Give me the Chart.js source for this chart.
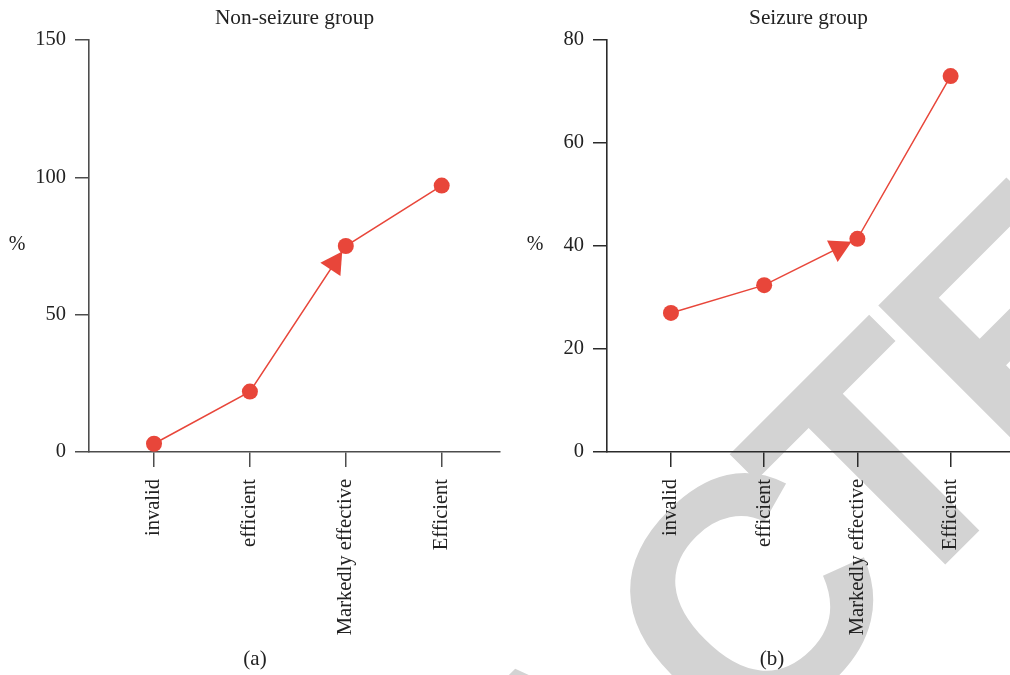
<!DOCTYPE html>
<html>
<head>
<meta charset="utf-8">
<script src="https://cdn.jsdelivr.net/npm/chart.js@4.4.1/dist/chart.umd.min.js"></script>
<style>
  html, body { margin: 0; padding: 0; background: #fff; overflow: hidden; width: 1010px; height: 675px; }
  .panel { position: absolute; top: 0; width: 505px; height: 675px; }
  #panelA { left: 0; }
  #panelB { left: 505px; }
</style>
</head>
<body>
<div class="panel" id="panelA"><canvas id="chartA" width="505" height="675"></canvas></div>
<div class="panel" id="panelB"><canvas id="chartB" width="505" height="675"></canvas></div>
<script>
// Outcome categories shared by both panels
const categories = ['invalid', 'efficient', 'Markedly effective', 'Efficient'];

// Percentages per outcome
const nonSeizureValues = [3, 22, 75, 97];
const seizureValues = [27, 32.4, 41.4, 73];

// Y-axis tick values
const nonSeizureTicks = [0, 50, 100, 150];
const seizureTicks = [0, 20, 40, 60, 80];

const RED = '#e8463a';
const SERIF = '"Liberation Serif", "DejaVu Serif", serif';

// Stamp text drawn behind both panels, positioned in page coordinates
// (rotated frame: u runs along the baseline, the baseline sits at v = 1067.6)
const stampPlugin = {
  id: 'stamp',
  beforeDraw(chart, args, opts) {
    const ctx = chart.ctx;
    ctx.save();
    ctx.translate(-opts.pageX, 0);
    ctx.rotate(-Math.PI / 4);
    ctx.font = 'bold 335px "Liberation Sans", Arial, sans-serif';
    ctx.fillStyle = '#d3d3d3';
    ctx.textBaseline = 'alphabetic';
    ctx.textAlign = 'left';
    const base = 1067.6;
    const head = 'RETRAC';
    ctx.fillText(head, 226 - ctx.measureText(head).width, base);
    ctx.fillText('T', 191, base);
    ctx.fillText('ED', 382.5, base);
    ctx.restore();
  }
};

// Direction arrow drawn on one segment of the line, pointing to its end point
const arrowPlugin = {
  id: 'segmentArrow',
  afterDatasetsDraw(chart, args, opts) {
    const pts = chart.getDatasetMeta(0).data;
    const a = pts[opts.segment], b = pts[opts.segment + 1];
    if (!a || !b) return;
    const dx = b.x - a.x, dy = b.y - a.y;
    const len = Math.hypot(dx, dy);
    const ux = dx / len, uy = dy / len;
    const tipX = b.x - ux * opts.gap, tipY = b.y - uy * opts.gap;
    const baseX = tipX - ux * opts.length, baseY = tipY - uy * opts.length;
    const px = -uy * opts.width / 2, py = ux * opts.width / 2;
    const ctx = chart.ctx;
    ctx.save();
    ctx.fillStyle = RED;
    ctx.beginPath();
    ctx.moveTo(tipX, tipY);
    ctx.lineTo(baseX + px, baseY + py);
    ctx.lineTo(baseX - px, baseY - py);
    ctx.closePath();
    ctx.fill();
    ctx.restore();
  }
};

// Panel title, unrotated axis unit and caption letter
const labelsPlugin = {
  id: 'panelLabels',
  afterDraw(chart, args, opts) {
    const ctx = chart.ctx;
    const area = chart.chartArea;
    const y = chart.scales.y;
    ctx.save();
    ctx.fillStyle = '#222';
    ctx.textBaseline = 'alphabetic';
    ctx.textAlign = 'center';
    ctx.font = '21.3px ' + SERIF;
    ctx.fillText(opts.title, (area.left + area.right) / 2, 23.5);
    ctx.font = '20px ' + SERIF;
    ctx.fillText('%', y.right - 72, (area.top + area.bottom) / 2 + 4);
    ctx.font = '21px ' + SERIF;
    ctx.fillText(opts.caption, opts.captionX, 665);
    ctx.restore();
  }
};

function makeChart(canvasId, values, yTicks, cfg) {
  const axisStyle = {
    grid: { display: true, drawOnChartArea: false, drawTicks: true, color: cfg.axisColor, lineWidth: 1.5 },
    border: { display: true, color: cfg.axisColor, width: 1.6 }
  };
  return new Chart(document.getElementById(canvasId), {
    type: 'line',
    data: {
      datasets: [{
        data: values.map((v, i) => ({ x: i, y: v })),
        borderColor: RED,
        borderWidth: 1.5,
        backgroundColor: RED,
        pointBackgroundColor: RED,
        pointBorderWidth: 0,
        pointRadius: 8,
        pointHoverRadius: 8,
        tension: 0,
        fill: false
      }]
    },
    options: {
      responsive: false,
      animation: false,
      events: [],
      layout: { autoPadding: false, padding: { top: 40, right: cfg.padRight, left: 0, bottom: 0 } },
      plugins: {
        legend: { display: false },
        tooltip: { enabled: false },
        stamp: { pageX: cfg.pageX },
        segmentArrow: { segment: 1, gap: 6.5, length: 21.5, width: 24 },
        panelLabels: { title: cfg.title, caption: cfg.caption, captionX: cfg.captionX }
      },
      scales: {
        x: {
          type: 'linear',
          min: cfg.xMin,
          max: cfg.xMax,
          grid: { ...axisStyle.grid, tickLength: 15 },
          border: axisStyle.border,
          afterBuildTicks: (scale) => { scale.ticks = categories.map((_, i) => ({ value: i })); },
          afterFit: (scale) => {
            scale.height = 223;
            scale.paddingLeft = 0;
            scale.paddingRight = 0;
          },
          ticks: {
            autoSkip: false,
            minRotation: 90,
            maxRotation: 90,
            padding: 12,
            color: '#222',
            font: { family: SERIF, size: 20.5 },
            callback: (v) => categories[v]
          }
        },
        y: {
          type: 'linear',
          min: yTicks[0],
          max: yTicks[yTicks.length - 1],
          grid: { ...axisStyle.grid, tickLength: 14 },
          border: axisStyle.border,
          afterBuildTicks: (scale) => { scale.ticks = yTicks.map((v) => ({ value: v })); },
          afterFit: (scale) => { scale.width = cfg.yWidth; },
          ticks: {
            padding: 9,
            color: '#222',
            font: { family: SERIF, size: 20.5 }
          }
        }
      }
    },
    plugins: [stampPlugin, arrowPlugin, labelsPlugin]
  });
}

makeChart('chartA', nonSeizureValues, nonSeizureTicks, {
  title: 'Non-seizure group', caption: '(a)', captionX: 255,
  pageX: 0, yWidth: 89, padRight: 5, xMin: -0.678, xMax: 3.608, axisColor: '#4d4d4d'
});

makeChart('chartB', seizureValues, seizureTicks, {
  title: 'Seizure group', caption: '(b)', captionX: 267,
  pageX: 505, yWidth: 102, padRight: 0, xMin: -0.686, xMax: 3.637, axisColor: '#2b2b2b'
});
</script>
</body>
</html>
